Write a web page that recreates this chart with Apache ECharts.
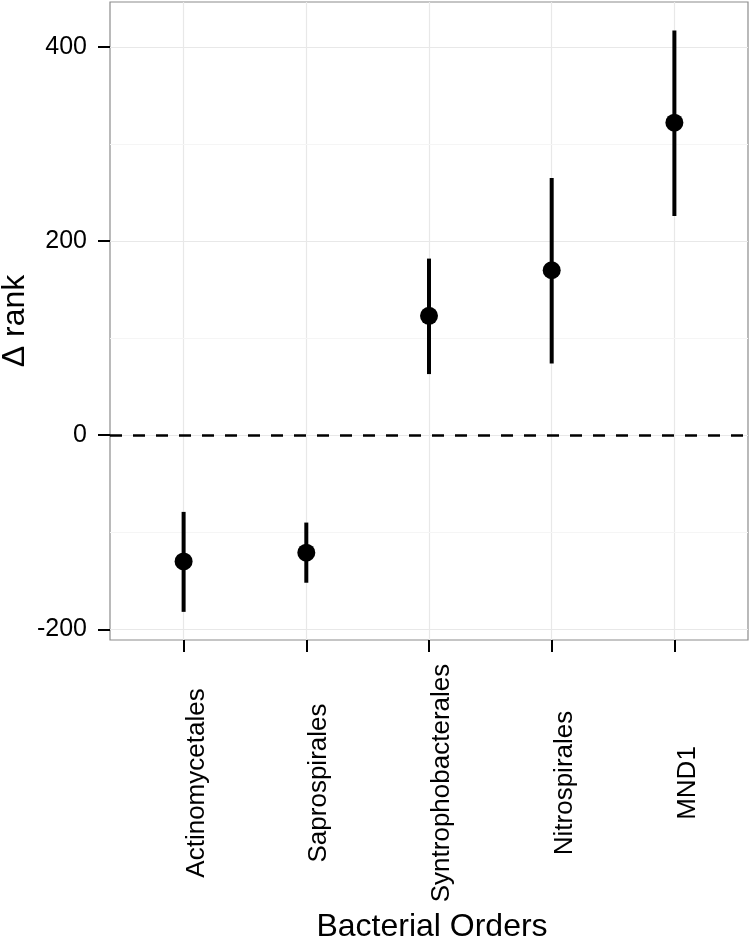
<!DOCTYPE html>
<html>
<head>
<meta charset="utf-8">
<script src="https://cdn.jsdelivr.net/npm/echarts@6/dist/echarts.min.js"></script>
<style>
  html, body { margin: 0; padding: 0; background: #fff; }
  #chart { width: 750px; height: 940px; }
</style>
</head>
<body>
<div id="chart"></div>
<script>
const categories = ["Actinomycetales", "Saprospirales", "Syntrophobacterales", "Nitrospirales", "MND1"];
const meanRank = [-130, -121, 123, 170, 322];
const lowerRank = [-182, -152, 63, 74, 226];
const upperRank = [-79, -90, 182, 265, 417];
const yTicks = [-200, 0, 200, 400];
const yMinorTicks = [-100, 100, 300];

const FONT = '"Liberation Sans", Arial, Helvetica, sans-serif';
const idx = categories.map((c, i) => i);

const chart = echarts.init(document.getElementById('chart'), null, { renderer: 'canvas' });
chart.setOption({
  animation: false,
  backgroundColor: '#fff',
  grid: {
    left: 110, right: 2, top: 2, bottom: 300,
    containLabel: false,
    outerBoundsMode: 'none',
    show: true, borderColor: '#8c8c8c', borderWidth: 1.2, backgroundColor: '#fff'
  },
  xAxis: {
    type: 'value',
    min: -0.6, max: categories.length - 0.4,
    name: 'Bacterial Orders',
    nameLocation: 'middle',
    nameGap: 271,
    nameMoveOverlap: false,
    nameTextStyle: { fontFamily: FONT, fontSize: 32, color: '#000', padding: [0, 0, 0, 6] },
    axisLine: { show: false, onZero: false },
    axisTick: { show: true, length: 12, lineStyle: { color: '#000', width: 2 }, customValues: idx },
    axisLabel: {
      customValues: idx,
      formatter: v => categories[Math.round(v)],
      rotate: 90,
      align: 'center',
      verticalAlign: 'top',
      margin: 143,
      fontFamily: FONT, fontSize: 26, color: '#000'
    },
    splitLine: { show: true, lineStyle: { color: '#e8e8e8', width: 1.2 } }
  },
  yAxis: {
    type: 'value',
    min: -211, max: 446.4,
    name: 'Δ rank',
    nameLocation: 'middle',
    nameRotate: 90,
    nameGap: 79,
    nameMoveOverlap: false,
    nameTextStyle: { fontFamily: FONT, fontSize: 32, color: '#000' },
    axisLine: { show: false, onZero: false },
    axisTick: { show: true, length: 12, lineStyle: { color: '#000', width: 2 }, customValues: yTicks },
    axisLabel: {
      customValues: yTicks,
      margin: 23,
      fontFamily: FONT, fontSize: 25, color: '#000'
    },
    splitLine: { show: true, lineStyle: { color: '#e8e8e8', width: 1.2 } }
  },
  series: [
    {
      type: 'line',
      data: [],
      silent: true,
      z: 1,
      markLine: {
        silent: true,
        z: 1,
        symbol: 'none',
        label: { show: false },
        lineStyle: { color: '#f5f5f5', width: 1.2, type: 'solid' },
        data: yMinorTicks.map(v => ({ yAxis: v }))
      }
    },
    {
      type: 'line',
      data: [],
      silent: true,
      z: 2,
      markLine: {
        silent: true,
        z: 2,
        symbol: 'none',
        label: { show: false },
        lineStyle: { color: '#000', width: 2.6, type: [12, 11] },
        data: [{ yAxis: 0 }]
      }
    },
    {
      type: 'custom',
      z: 10,
      data: idx.map(i => [i, lowerRank[i], upperRank[i]]),
      renderItem: (params, api) => {
        const x = api.value(0);
        const lo = api.coord([x, api.value(1)]);
        const hi = api.coord([x, api.value(2)]);
        return {
          type: 'line',
          shape: { x1: lo[0], y1: lo[1], x2: hi[0], y2: hi[1] },
          style: { stroke: '#000', lineWidth: 4 }
        };
      }
    },
    {
      type: 'scatter',
      z: 11,
      symbol: 'circle',
      symbolSize: 18,
      itemStyle: { color: '#000', opacity: 1 },
      data: idx.map(i => [i, meanRank[i]])
    }
  ]
});
</script>
</body>
</html>
